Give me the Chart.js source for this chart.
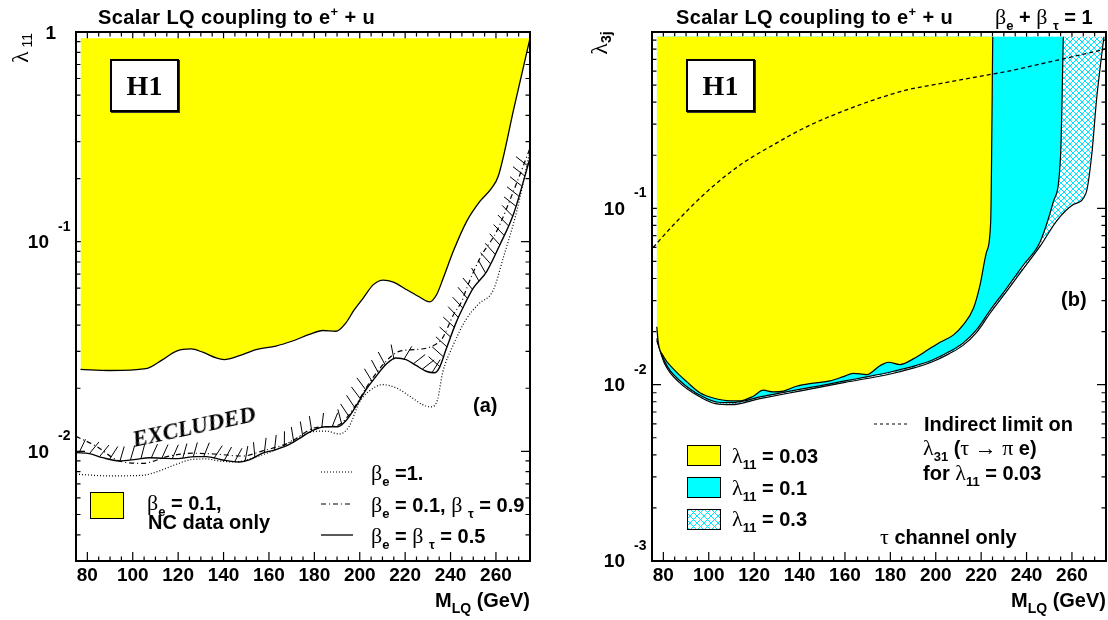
<!doctype html>
<html lang="en">
<head>
<meta charset="utf-8">
<title>Scalar LQ coupling to e+ + u</title>
<style>
  body { margin: 0; background: #fff; }
  #page { position: relative; width: 1108px; height: 620px; overflow: hidden; font-family: "Liberation Sans", Arial, sans-serif; color: #000; }
  canvas { position: absolute; top: 0; }
  .t { position: absolute; font-weight: bold; font-size: 20px; line-height: 1; white-space: nowrap; transform: translateY(-50%); }
  .g { font-family: "Liberation Serif", "DejaVu Serif", serif; font-weight: normal; font-size: 22px; }
  .sb { font-size: 13px; position: relative; top: 6px; }
  .sp { font-size: 13px; position: relative; top: -8px; }
  .box { position: absolute; box-sizing: border-box; border: 1.5px solid #000; }
  .h1 { position: absolute; box-sizing: border-box; width: 69px; height: 53px; border: 2px solid #000; box-shadow: 1px 1px 0 #333; background: #fff;
        font: bold 28px "Liberation Serif", serif; display: flex; align-items: center; justify-content: center; }
  .hatch { background-color: #fff;
           background-image: repeating-linear-gradient(45deg, #00e5ff 0 1px, transparent 1px 5px), repeating-linear-gradient(-45deg, #00e5ff 0 1px, transparent 1px 5px); }
</style>
</head>
<body>
<div id="page">
  <canvas id="grafA" width="554" height="620" style="left:0"></canvas>
  <canvas id="grafB" width="554" height="620" style="left:554px"></canvas>

  <!-- titulos -->
  <div class="t" style="left:98px;top:17px;letter-spacing:0.4px">Scalar LQ coupling to e<span class="sp">+</span> + u</div>
  <div class="t" style="left:676px;top:17px;letter-spacing:0.4px">Scalar LQ coupling to e<span class="sp">+</span> + u</div>
  <div class="t" style="left:995px;top:17px"><span class="g">β</span><span class="sb">e</span> + <span class="g">β</span> <span class="sb">τ</span> = 1</div>

  <!-- eixos -->
  <div class="t" style="left:20px;top:48px;transform:translate(-50%,-50%) rotate(-90deg);font-weight:normal"><span class="g" style="font-size:24px">λ</span><span class="sb" style="font-size:14px;top:4px"> 11</span></div>
  <div class="t" style="left:599px;top:43px;transform:translate(-50%,-50%) rotate(-90deg)"><span class="g" style="font-size:24px">λ</span><span class="sb" style="font-size:14px;top:4px">3j</span></div>
  <div class="t" style="right:578px;top:600px">M<span class="sb" style="font-size:14px">LQ</span> (GeV)</div>
  <div class="t" style="right:2px;top:600px">M<span class="sb" style="font-size:14px">LQ</span> (GeV)</div>

  <!-- H1 -->
  <div class="h1" style="left:110px;top:59px">H1</div>
  <div class="h1" style="left:686px;top:59px">H1</div>

  <!-- painel (a) -->
  <div class="t" style="left:194px;top:427px;transform:translate(-50%,-50%) rotate(-12deg);font:italic bold 23px 'Liberation Serif',serif">EXCLUDED</div>
  <div class="t" style="left:473px;top:405px">(a)</div>
  <div class="box" style="left:90px;top:492px;width:34px;height:27px;background:#ffff00"></div>
  <div class="t" style="left:147px;top:503px"><span class="g">β</span><span class="sb">e</span> = 0.1,</div>
  <div class="t" style="left:148px;top:522px">NC data only</div>
  <svg style="position:absolute;left:320px;top:460px" width="36" height="85">
    <line x1="1" y1="12" x2="33" y2="12" stroke="#000" stroke-width="1.2" stroke-dasharray="1 2"/>
    <line x1="1" y1="44" x2="33" y2="44" stroke="#000" stroke-width="1.2" stroke-dasharray="5 3 1 3"/>
    <line x1="1" y1="75" x2="33" y2="75" stroke="#000" stroke-width="1.3"/>
  </svg>
  <div class="t" style="left:371px;top:473px"><span class="g">β</span><span class="sb">e</span> =1.</div>
  <div class="t" style="left:371px;top:505px"><span class="g">β</span><span class="sb">e</span> = 0.1, <span class="g">β</span> <span class="sb">τ</span> = 0.9</div>
  <div class="t" style="left:371px;top:536px"><span class="g">β</span><span class="sb">e</span> = <span class="g">β</span> <span class="sb">τ</span> = 0.5</div>

  <!-- painel (b) -->
  <div class="t" style="left:1061px;top:299px">(b)</div>
  <div class="box" style="left:687px;top:445px;width:34px;height:21px;background:#ffff00"></div>
  <div class="box" style="left:687px;top:477px;width:34px;height:21px;background:#00ffff"></div>
  <div class="box hatch" style="left:687px;top:509px;width:34px;height:21px"></div>
  <div class="t" style="left:732px;top:456px"><span class="g">λ</span><span class="sb">11</span> = 0.03</div>
  <div class="t" style="left:732px;top:488px"><span class="g">λ</span><span class="sb">11</span> = 0.1</div>
  <div class="t" style="left:732px;top:519px"><span class="g">λ</span><span class="sb">11</span> = 0.3</div>
  <svg style="position:absolute;left:873px;top:419px" width="37" height="10">
    <line x1="1" y1="5" x2="36" y2="5" stroke="#000" stroke-width="1.2" stroke-dasharray="3 3"/>
  </svg>
  <div class="t" style="left:924px;top:424px">Indirect limit on</div>
  <div class="t" style="left:923px;top:448px"><span class="g">λ</span><span class="sb">31</span> (<span class="g">τ → π</span> e)</div>
  <div class="t" style="left:923px;top:473px">for <span class="g">λ</span><span class="sb">11</span> = 0.03</div>
  <div class="t" style="left:880px;top:537px"><span class="g">τ</span> channel only</div>
</div>

<script src="https://cdn.jsdelivr.net/npm/chart.js"></script>
<script>
// eixos
const xTickLabels = [80, 100, 120, 140, 160, 180, 200, 220, 240, 260];
const yTicksA = [0.01, 0.1, 1];
const yTicksB = [0.001, 0.01, 0.1];

// (a) beta_e = 0.1, so NC (area amarela)
const massNC = [77, 89.7, 105.8, 113.2, 119, 125.7, 130.8, 136.7, 140.3, 147, 154.3, 163.1, 170.4, 177.8, 183.7, 189.5, 193.9, 197.4, 201.6, 206,
                210.4, 214.8, 220.7, 226.5, 230.7, 233.9, 236.8, 241.2, 247.1, 253, 258.1, 261, 268, 275];
const lamNC = [0.0246, 0.0243, 0.0248, 0.0274, 0.0300, 0.0308, 0.0297, 0.0279, 0.0274, 0.0286, 0.0306, 0.0318, 0.0336, 0.0361, 0.0377, 0.0374, 0.0410, 0.0470, 0.0540, 0.0624,
               0.0656, 0.0642, 0.0590, 0.0543, 0.0516, 0.0560, 0.0671, 0.0900, 0.125, 0.156, 0.180, 0.205, 0.437, 0.933];
const massTopA = [77, 275];
const lamTopA = [0.933, 0.933];

// (a) beta_e = beta_tau = 0.5 (linha cheia com hachura)
const massB05 = [75, 80.9, 86.7, 94.1, 101.4, 107.3, 113.2, 119.1, 127.9, 132.3, 139.6, 147, 151.4, 157.2, 163.1, 169, 174.9, 179.3, 185.1, 190.3,
                 193.9, 198.3, 202.8, 207.2, 211.6, 216, 220.4, 224.8, 229.2, 232.9, 235.1, 238, 242.4, 246.1, 250, 255.9, 261.8, 267.7, 275];
const lamB05 = [0.00986, 0.00976, 0.00933, 0.0090, 0.00916, 0.00933, 0.00927, 0.00923, 0.00944, 0.00944, 0.0091, 0.0089, 0.0091, 0.0098, 0.0102, 0.0108, 0.0118, 0.0126, 0.0131, 0.0131,
                0.0140, 0.0164, 0.0197, 0.0228, 0.0260, 0.0279, 0.0274, 0.0257, 0.0241, 0.0237, 0.0251, 0.0306, 0.0410, 0.0500, 0.0600, 0.0720, 0.0970, 0.135, 0.250];

// (a) beta_e = 0.1, beta_tau = 0.9 (traco-ponto)
const massB01 = [75, 83.8, 94.1, 104.4, 116.1, 126.4, 136.7, 148.4, 157.2, 169, 180.7, 190.3, 196.9, 204.2, 211.6, 217.4, 224.8, 232.1, 236.5, 241,
                 245.3, 247.1, 253, 260.3, 267.7, 275];
const lamB01 = [0.0118, 0.0106, 0.0090, 0.00877, 0.0095, 0.0098, 0.0097, 0.0095, 0.01005, 0.0110, 0.0130, 0.0133, 0.0158, 0.0212, 0.0269, 0.0300, 0.0306, 0.0318, 0.0348, 0.0442,
                0.0530, 0.0600, 0.0836, 0.112, 0.174, 0.279];

// (a) beta_e = 1 (pontilhado)
const massB1 = [75, 89.7, 104.4, 111.7, 119.1, 126.4, 132.3, 138.1, 145.5, 152.8, 163.1, 171.9, 179.3, 185.1, 191, 195.4, 199.8, 204.2, 210.1, 216,
                221.8, 227.7, 231.4, 234.3, 236.5, 241, 246.8, 252, 258.9, 263.2, 269.1, 275];
const lamB1 = [0.00778, 0.00764, 0.00769, 0.00807, 0.00867, 0.00916, 0.0092, 0.0090, 0.0089, 0.0093, 0.0102, 0.0115, 0.0124, 0.0125, 0.0121, 0.0132, 0.0171, 0.0194, 0.0208, 0.0201,
               0.0184, 0.0167, 0.0163, 0.0177, 0.0237, 0.0318, 0.0425, 0.0500, 0.0590, 0.0836, 0.139, 0.270];

// (b) lambda11 = 0.03
const massL003 = [77.1, 77.8, 80, 84.4, 90.3, 96.1, 102, 109.4, 113.8, 119.6, 124, 128.4, 132.9, 138.7, 146.1, 153.4, 159.3, 163.7, 169.6, 175.4,
                  179.1, 184.2, 190.1, 196, 201.9, 207.7, 212.1, 216.6, 219.5, 222.4, 224.2, 224.6, 225.1];
const lamL003 = [0.0213, 0.0172, 0.0145, 0.0123, 0.0104, 0.0090, 0.0084, 0.0081, 0.0081, 0.0086, 0.0093, 0.0091, 0.0092, 0.0098, 0.0102, 0.0105, 0.0111, 0.0116, 0.0114, 0.0128,
                 0.0134, 0.0130, 0.0140, 0.0156, 0.0174, 0.0191, 0.0218, 0.0271, 0.0367, 0.0568, 0.0839, 0.192, 0.940];

// (b) lambda11 = 0.1
const massL01 = [77.1, 78.5, 80.5, 83, 87, 92, 97, 103, 110, 116, 122, 130, 140, 150, 160, 170, 180, 190, 198, 206,
                 212, 218, 224, 231.2, 238.6, 246, 251.8, 255, 256.2];
const lamL01 = [0.0183, 0.0158, 0.0136, 0.0120, 0.0106, 0.0094, 0.0086, 0.0080, 0.0079, 0.0081, 0.0085, 0.0089, 0.0094, 0.0099, 0.0105, 0.0111, 0.0118, 0.0127, 0.0137, 0.0154,
                0.0172, 0.0205, 0.0265, 0.0352, 0.0477, 0.0647, 0.109, 0.200, 0.940];

// (b) lambda11 = 0.3
const massL03 = [77.1, 80.5, 87, 97, 103, 110, 122, 140, 160, 180, 190, 198, 206, 212, 218, 224, 231.2, 238.6, 246, 253.3,
                 260.6, 266.2, 268.7, 270.9, 273.1, 274.1];
const lamL03 = [0.0178, 0.0132, 0.0103, 0.0084, 0.0078, 0.0077, 0.0083, 0.0092, 0.0103, 0.0115, 0.0124, 0.0134, 0.0150, 0.0167, 0.0198, 0.0255, 0.0338, 0.0455, 0.0610, 0.0850,
                0.105, 0.122, 0.200, 0.421, 0.741, 0.940];

// (b) limite indireto (tracejado)
const massInd = [75.5, 84.4, 99.1, 113.8, 128.4, 143.1, 157.8, 172.5, 187.2, 201.9, 216.6, 231.2, 246, 260.6, 275];
const lamInd = [0.0600, 0.0804, 0.124, 0.176, 0.229, 0.290, 0.350, 0.411, 0.469, 0.510, 0.552, 0.597, 0.658, 0.726, 0.801];

const massTopB = [77.1, 275];
const lamTopB = [0.94, 0.94];

const FONT = '"Liberation Sans", Arial, sans-serif';
const xy = (ms, ls) => ms.map((m, i) => ({x: m, y: ls[i]}));

// marcas estilo ROOT: para dentro, nos quatro lados
function rootAxes(yTicks) {
    return {
        id: 'rootAxes',
        beforeDatasetsDraw(chart) {
            const {ctx, chartArea: a, scales: {x, y}} = chart;
            ctx.save();
            ctx.strokeStyle = '#000';
            ctx.lineWidth = 1.2;
            ctx.beginPath();
            for (let m = x.min; m <= x.max; m += 5) {
                const px = x.getPixelForValue(m), len = m % 20 === 0 ? 9 : 4.5;
                ctx.moveTo(px, a.bottom); ctx.lineTo(px, a.bottom - len);
                ctx.moveTo(px, a.top); ctx.lineTo(px, a.top + len);
            }
            const e0 = Math.floor(Math.log10(y.min));
            for (let e = e0; e <= 0; e++) {
                for (let k = 1; k <= 9; k++) {
                    const v = k * Math.pow(10, e);
                    if (v < y.min * 0.999 || v > y.max * 1.001) continue;
                    const py = y.getPixelForValue(v), len = k === 1 ? 9 : 4.5;
                    ctx.moveTo(a.left, py); ctx.lineTo(a.left + len, py);
                    ctx.moveTo(a.right, py); ctx.lineTo(a.right - len, py);
                }
            }
            ctx.stroke();
            ctx.restore();
        },
        afterDraw(chart) {
            const {ctx, chartArea: a, scales: {x, y}} = chart;
            ctx.save();
            ctx.lineWidth = 2;
            ctx.strokeStyle = '#000';
            ctx.strokeRect(a.left, a.top, a.right - a.left, a.bottom - a.top);
            ctx.fillStyle = '#000';
            ctx.textBaseline = 'middle';
            ctx.font = 'bold 19px ' + FONT;
            ctx.textAlign = 'center';
            xTickLabels.forEach(v => ctx.fillText(String(v), x.getPixelForValue(v), a.bottom + 15));
            yTicks.forEach(v => {
                const py = y.getPixelForValue(v);
                const ex = Math.round(Math.log10(v));
                ctx.font = 'bold 19px ' + FONT;
                ctx.textAlign = 'right';
                if (ex === 0) {
                    ctx.fillText('1', a.left - 20, py + 2);
                    return;
                }
                ctx.fillText('10', a.left - 27, py + 1);
                ctx.font = 'bold 14px ' + FONT;
                ctx.textAlign = 'left';
                ctx.fillText(String(ex), a.left - 18, py - 15);
            });
            ctx.restore();
        }
    };
}

// tracinhos da zona excluida, acima da curva beta_e = beta_tau = 0.5
const hatchPlugin = {
    id: 'hatchMarks',
    afterDatasetsDraw(chart) {
        const pts = chart.getDatasetMeta(0).data.map(p => ({x: p.x, y: p.y}));
        const {ctx, chartArea: ca} = chart;
        const step = 10.5, len = 15, sa = Math.sin(0.38), co = Math.cos(0.38);
        ctx.save();
        ctx.beginPath();
        ctx.rect(ca.left, ca.top, ca.right - ca.left, ca.bottom - ca.top);
        ctx.clip();
        ctx.strokeStyle = '#000';
        ctx.lineWidth = 1;
        ctx.beginPath();
        let next = 3, acc = 0;
        for (let i = 1; i < pts.length; i++) {
            const a = pts[i - 1], b = pts[i];
            const tx = b.x - a.x, ty = b.y - a.y, L = Math.hypot(tx, ty);
            if (!L) continue;
            const ux = tx / L, uy = ty / L;
            const dx = uy * co + ux * sa, dy = -ux * co + uy * sa;
            while (next <= acc + L) {
                const f = next - acc;
                const px = a.x + ux * f, py = a.y + uy * f;
                ctx.moveTo(px, py);
                ctx.lineTo(px + dx * len, py + dy * len);
                next += step;
            }
            acc += L;
        }
        ctx.stroke();
        ctx.restore();
    }
};

function crossHatch() {
    const c = document.createElement('canvas');
    c.width = 6; c.height = 6;
    const g = c.getContext('2d');
    g.fillStyle = '#fff';
    g.fillRect(0, 0, 6, 6);
    g.strokeStyle = '#00e5ff';
    g.lineWidth = 1;
    g.beginPath();
    g.moveTo(0, 0); g.lineTo(6, 6);
    g.moveTo(6, 0); g.lineTo(0, 6);
    g.stroke();
    return g.createPattern(c, 'repeat');
}

const linha = {pointRadius: 0, borderColor: '#000', cubicInterpolationMode: 'monotone', fill: false};

function opcoes(ymin, pad) {
    return {
        responsive: false,
        animation: false,
        events: [],
        layout: {padding: pad},
        plugins: {legend: {display: false}, tooltip: {enabled: false}},
        scales: {
            x: {type: 'linear', min: 75, max: 275, display: false},
            y: {type: 'logarithmic', min: ymin, max: 1, display: false}
        }
    };
}

new Chart(document.querySelector('#grafA'), {
    type: 'line',
    data: {
        datasets: [
            {...linha, label: 'βe = βτ = 0.5', data: xy(massB05, lamB05), borderWidth: 1.4},
            {...linha, label: 'βe = 0.1, βτ = 0.9', data: xy(massB01, lamB01), borderWidth: 1.2, borderDash: [5, 3, 1, 3]},
            {...linha, label: 'βe = 1.', data: xy(massB1, lamB1), borderWidth: 1.2, borderDash: [1, 2]},
            {...linha, label: 'βe = 0.1, NC data only', data: xy(massNC, lamNC), borderWidth: 1.3, backgroundColor: '#ffff00', fill: 4},
            {...linha, label: 'topo', data: xy(massTopA, lamTopA), borderWidth: 0}
        ]
    },
    options: opcoes(0.003, {left: 76, top: 32, right: 24, bottom: 59}),
    plugins: [rootAxes(yTicksA), hatchPlugin]
});

new Chart(document.querySelector('#grafB'), {
    type: 'line',
    data: {
        datasets: [
            {...linha, label: 'Indirect limit', data: xy(massInd, lamInd), borderWidth: 1.3, borderDash: [4, 3]},
            {...linha, label: 'λ11 = 0.03', data: xy(massL003, lamL003), borderWidth: 1.2, backgroundColor: '#ffff00', fill: 4},
            {...linha, label: 'λ11 = 0.1', data: xy(massL01, lamL01), borderWidth: 1.2, backgroundColor: '#00ffff', fill: 4},
            {...linha, label: 'λ11 = 0.3', data: xy(massL03, lamL03), borderWidth: 1.2, backgroundColor: crossHatch(), fill: 4},
            {...linha, label: 'topo', data: xy(massTopB, lamTopB), borderWidth: 0}
        ]
    },
    options: opcoes(0.001, {left: 98, top: 32, right: 2, bottom: 59}),
    plugins: [rootAxes(yTicksB)]
});
</script>
</body>
</html>
